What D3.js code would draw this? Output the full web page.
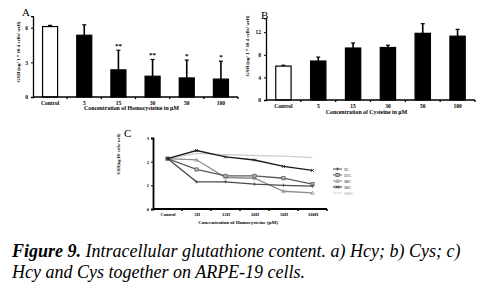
<!DOCTYPE html>
<html><head><meta charset="utf-8">
<script src="https://cdn.jsdelivr.net/npm/d3@7"></script>
<style>body{margin:0;background:#fff} svg{display:block} text{font-family:"Liberation Serif","Times New Roman","DejaVu Serif",serif}</style>
</head><body>
<svg id="c" width="481" height="288"></svg>
<script>
// ---- Data ----
const categories = ["Control", "5", "15", "30", "50", "100"];
const hcyValues = [6.1, 5.35, 2.35, 1.8, 1.65, 1.55];
const hcyErrors = [0.1, 0.9, 1.7, 1.45, 1.55, 1.55];
const hcyStars = ["", "", "**", "**", "*", "*"];
const hcyTicks = [0, 3, 6];
const cysValues = [6.0, 6.9, 9.2, 9.3, 11.8, 11.3];
const cysErrors = [0.15, 0.7, 0.9, 0.4, 1.7, 1.2];
const cysTicks = [0, 4, 8, 12];
const comboCategories = ["Control", "5H", "15H", "20H", "50H", "100H"];
const comboTicks = [0, 1, 2, 3];
const seriesNames = ["5C", "15C", "30C", "50C", "100C"];
const s5C = [2.13, 1.15, 1.15, 1.05, 1.0, 0.97];
const s15C = [2.13, 1.67, 1.4, 1.4, 1.3, 1.05];
const s30C = [2.13, 2.08, 1.33, 1.3, 0.75, 0.68];
const s50C = [2.13, 2.47, 2.2, 2.07, 1.8, 1.63];
const s100C = [2.13, 2.35, 2.3, 2.26, 2.23, 2.17];
const comboSeries = [s5C, s15C, s30C, s50C, s100C];

const svg = d3.select("#c");
const fmt = d3.format("d");

function barPanel(opts) {
  const g = svg.append("g");
  const x = d3.scaleBand().domain(categories).range([opts.x0, opts.x1])
    .paddingInner(0.56).paddingOuter(0.28);
  const y = d3.scaleLinear().domain([0, opts.ymax]).range([opts.y0, opts.y1]);
  g.selectAll("rect.bar").data(opts.values).join("rect")
    .attr("x", (d, i) => x(categories[i]))
    .attr("y", d => y(d))
    .attr("width", x.bandwidth())
    .attr("height", d => y(0) - y(d))
    .attr("fill", (d, i) => i === 0 ? "#fff" : "#000")
    .attr("stroke", "#000").attr("stroke-width", 1.2);
  opts.values.forEach((v, i) => {
    const cx = x(categories[i]) + x.bandwidth() / 2;
    g.append("line").attr("x1", cx).attr("x2", cx)
      .attr("y1", y(v)).attr("y2", y(v + opts.errors[i]))
      .attr("stroke", "#000").attr("stroke-width", 1.6);
    g.append("line").attr("x1", cx - 2).attr("x2", cx + 2)
      .attr("y1", y(v + opts.errors[i])).attr("y2", y(v + opts.errors[i]))
      .attr("stroke", "#000").attr("stroke-width", 1.2);
    if (opts.stars && opts.stars[i]) {
      g.append("text").attr("x", cx).attr("y", y(v + opts.errors[i]) - 2)
        .attr("text-anchor", "middle")
        .attr("font-size", 7).attr("font-weight", "bold").text(opts.stars[i]);
    }
  });
  const yAxis = d3.axisLeft(y).tickValues(opts.ticks).tickFormat(fmt).tickSize(2).tickPadding(3);
  const ya = g.append("g").attr("transform", `translate(${opts.x0},0)`).call(yAxis);
  const xAxis = d3.axisBottom(x).tickSize(0).tickPadding(4);
  const xa = g.append("g").attr("transform", `translate(0,${opts.y0})`).call(xAxis);
  [ya, xa].forEach(a => {
    a.attr("font-family", null);
    a.select(".domain").attr("stroke", "#000").attr("stroke-width", 1.3);
    a.selectAll("text").attr("font-size", 5.5)
      .attr("font-weight", "bold").attr("fill", "#000");
    a.selectAll("line").attr("stroke", "#000");
  });
  xa.select(".domain").attr("d", `M${opts.x0},0H${opts.x1}`);
  const step = x.step();
  d3.range(1, categories.length + 1).forEach(k => {
    const bx = opts.x0 + k * step;
    g.append("line").attr("x1", bx).attr("x2", bx).attr("y1", opts.y0).attr("y2", opts.y0 + 2)
      .attr("stroke", "#000").attr("stroke-width", 1.3);
  });
  g.append("text").attr("x", (opts.x0 + opts.x1) / 2 - 4).attr("y", opts.y0 + opts.titleDy)
    .attr("text-anchor", "middle").attr("font-size", 5.8)
    .attr("font-weight", "bold").text(opts.xTitle);
  g.append("text").attr("transform", `translate(${opts.yTitleX},${opts.yTitleY}) rotate(-90)`)
    .attr("text-anchor", "middle").attr("font-size", 5)
    .attr("font-weight", "bold").text("GSH (ng/ 1 * 10 4 cells/ well)");
  g.append("text").attr("x", opts.labelX).attr("y", opts.labelY)
    .attr("font-size", 11).text(opts.label);
}

barPanel({
  x0: 33, x1: 238, y0: 97, y1: 97 - 7 * 11.55, ymax: 7,
  values: hcyValues, errors: hcyErrors, stars: hcyStars, ticks: hcyTicks,
  xTitle: "Concentration of Homocysteine in µM", titleDy: 13,
  yTitleX: 20, yTitleY: 52, label: "A", labelX: 22, labelY: 16
});
barPanel({
  x0: 266, x1: 475, y0: 100, y1: 100 - 14.5 * 5.65, ymax: 14.5,
  values: cysValues, errors: cysErrors, stars: null, ticks: cysTicks,
  xTitle: "Concentration of Cysteine in µM", titleDy: 14,
  yTitleX: 249, yTitleY: 46, label: "B", labelX: 261, labelY: 19
});

// ---- Panel C ----
(function () {
  const g = svg.append("g");
  const X0 = 153, X1 = 327, Y0 = 209, Y1 = 138;
  const x = d3.scalePoint().domain(comboCategories).range([X0, X1]).padding(0.5);
  const y = d3.scaleLinear().domain([0, 3]).range([Y0, Y1]);
  const colors = ["#4a4a4a", "#5a5a5a", "#8c8c8c", "#1a1a1a", "#cfcfcf"];
  const markers = ["plus", "square", "triangle", "cross", "none"];
  const line = d3.line().x((d, i) => x(comboCategories[i])).y(d => y(d));

  function marker(sel, type, cx, cy, col) {
    if (type === "square") {
      sel.append("rect").attr("x", cx - 1.6).attr("y", cy - 1.6).attr("width", 3.2).attr("height", 3.2)
        .attr("fill", "#bbb").attr("stroke", col).attr("stroke-width", 0.8);
    } else if (type === "triangle") {
      sel.append("path").attr("d", `M${cx},${cy - 1.8}L${cx + 1.8},${cy + 1.4}L${cx - 1.8},${cy + 1.4}Z`)
        .attr("fill", "none").attr("stroke", col).attr("stroke-width", 0.7);
    } else if (type === "plus") {
      sel.append("path").attr("d", `M${cx - 1.6},${cy}H${cx + 1.6}M${cx},${cy - 1.6}V${cy + 1.6}`)
        .attr("stroke", col).attr("stroke-width", 0.8);
    } else if (type === "cross") {
      sel.append("path").attr("d", `M${cx - 1.5},${cy - 1.5}L${cx + 1.5},${cy + 1.5}M${cx - 1.5},${cy + 1.5}L${cx + 1.5},${cy - 1.5}`)
        .attr("stroke", col).attr("stroke-width", 0.8);
    }
  }

  [4, 2, 1, 0, 3].forEach(si => {
    const vals = comboSeries[si];
    g.append("path").attr("d", line(vals)).attr("fill", "none")
      .attr("stroke", colors[si]).attr("stroke-width", 1.3);
    vals.forEach((v, i) => marker(g, markers[si], x(comboCategories[i]), y(v), colors[si]));
  });

  const ya = g.append("g").attr("transform", `translate(${X0},0)`)
    .call(d3.axisLeft(y).tickValues(comboTicks).tickFormat(fmt).tickSize(2).tickPadding(2));
  const xa = g.append("g").attr("transform", `translate(0,${Y0})`)
    .call(d3.axisBottom(x).tickSize(0).tickPadding(4));
  [ya, xa].forEach(a => {
    a.attr("font-family", null);
    a.select(".domain").attr("stroke", "#000").attr("stroke-width", 1.8);
    a.selectAll("text").attr("font-size", 4.5)
      .attr("font-weight", "bold").attr("fill", "#000");
    a.selectAll("line").attr("stroke", "#000");
  });
  xa.select(".domain").attr("d", `M${X0},0H${X1}`);
  const step = x.step();
  d3.range(1, comboCategories.length + 1).forEach(k => {
    const bx = X0 + k * step;
    g.append("line").attr("x1", bx).attr("x2", bx).attr("y1", Y0).attr("y2", Y0 + 2)
      .attr("stroke", "#000").attr("stroke-width", 1.5);
  });
  g.append("text").attr("x", 238).attr("y", 224).attr("text-anchor", "middle")
    .attr("font-size", 5).attr("font-weight", "bold")
    .text("Concentration of Homocysteine (µM)");
  g.append("text").attr("transform", `translate(120,154) rotate(-90)`)
    .attr("text-anchor", "middle").attr("font-size", 4.2)
    .attr("font-weight", "bold").text("GSH(ng/10⁶ cells/ well)");
  g.append("text").attr("x", 124).attr("y", 137)
    .attr("font-size", 11).text("C");

  seriesNames.forEach((name, i) => {
    const ly = 169 + i * 6;
    g.append("line").attr("x1", 333).attr("x2", 342).attr("y1", ly).attr("y2", ly)
      .attr("stroke", colors[i]).attr("stroke-width", 1);
    marker(g, markers[i], 337.5, ly, colors[i]);
    g.append("text").attr("x", 344).attr("y", ly + 1.5)
      .attr("font-size", 4.2).attr("font-weight", "bold")
      .attr("fill", i === 4 ? "#bbb" : "#555").text(name);
  });
})();

// ---- Caption ----
const cap = svg.append("g").attr("font-style", "italic").attr("font-size", 18);
const l1 = cap.append("text").attr("x", 12).attr("y", 257);
l1.append("tspan").attr("font-weight", "bold").text("Figure 9.");
l1.append("tspan").text(" Intracellular glutathione content. a) Hcy; b) Cys; c)");
cap.append("text").attr("x", 12).attr("y", 278).text("Hcy and Cys together on ARPE-19 cells.");
</script>
</body></html>
